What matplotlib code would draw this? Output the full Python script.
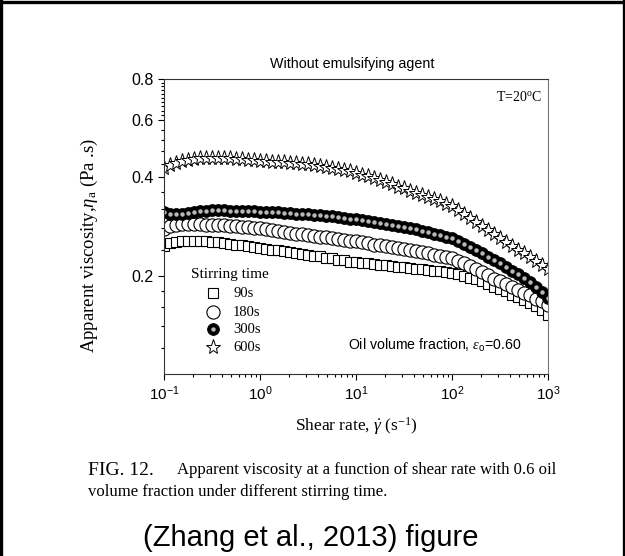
import numpy as np
import matplotlib
matplotlib.use("Agg")
import matplotlib.pyplot as plt
from matplotlib.lines import Line2D
from matplotlib.ticker import FixedLocator, NullFormatter, LogLocator, FuncFormatter

# shear rate grid of the rheometer (16 points per decade, 0.1 .. 1000 1/s)
shear_rate = np.logspace(-1, 3, 65)

# apparent viscosity (Pa.s)
eta_90s = [0.247, 0.252, 0.254, 0.255, 0.256, 0.256, 0.255, 0.255, 0.254, 0.253,
           0.252, 0.250, 0.249, 0.248, 0.246, 0.245, 0.243, 0.242, 0.240, 0.239,
           0.238, 0.236, 0.235, 0.233, 0.232, 0.230, 0.229, 0.227, 0.226, 0.224,
           0.223, 0.221, 0.220, 0.219, 0.218, 0.217, 0.216, 0.215, 0.214, 0.213,
           0.212, 0.211, 0.210, 0.209, 0.208, 0.207, 0.206, 0.205, 0.204, 0.202,
           0.200, 0.197, 0.195, 0.192, 0.189, 0.185, 0.182, 0.179, 0.175, 0.172,
           0.168, 0.165, 0.161, 0.157, 0.152]
eta_180s = [0.278, 0.283, 0.286, 0.287, 0.287, 0.287, 0.287, 0.286, 0.286, 0.285,
            0.285, 0.284, 0.283, 0.282, 0.281, 0.280, 0.279, 0.277, 0.276, 0.274,
            0.273, 0.271, 0.269, 0.268, 0.266, 0.265, 0.263, 0.262, 0.261, 0.259,
            0.258, 0.256, 0.255, 0.253, 0.251, 0.249, 0.248, 0.246, 0.245, 0.243,
            0.242, 0.240, 0.238, 0.236, 0.234, 0.232, 0.230, 0.228, 0.226, 0.222,
            0.218, 0.214, 0.210, 0.205, 0.201, 0.196, 0.192, 0.188, 0.185, 0.181,
            0.177, 0.174, 0.170, 0.167, 0.163]
eta_300s = [0.313, 0.309, 0.308, 0.310, 0.312, 0.314, 0.315, 0.316, 0.317, 0.317,
            0.317, 0.316, 0.316, 0.316, 0.315, 0.315, 0.314, 0.314, 0.313, 0.313,
            0.312, 0.311, 0.310, 0.309, 0.308, 0.307, 0.306, 0.305, 0.304, 0.302,
            0.301, 0.299, 0.298, 0.296, 0.294, 0.292, 0.290, 0.288, 0.286, 0.284,
            0.282, 0.280, 0.277, 0.275, 0.272, 0.269, 0.266, 0.263, 0.260, 0.255,
            0.250, 0.245, 0.239, 0.234, 0.228, 0.223, 0.218, 0.213, 0.207, 0.202,
            0.197, 0.191, 0.185, 0.178, 0.171]
eta_600s = [0.428, 0.436, 0.443, 0.448, 0.452, 0.455, 0.457, 0.458, 0.459, 0.459,
            0.458, 0.457, 0.456, 0.454, 0.453, 0.451, 0.449, 0.448, 0.447, 0.446,
            0.445, 0.444, 0.443, 0.441, 0.440, 0.437, 0.434, 0.431, 0.427, 0.424,
            0.420, 0.417, 0.413, 0.408, 0.403, 0.397, 0.392, 0.386, 0.381, 0.375,
            0.370, 0.364, 0.359, 0.354, 0.348, 0.343, 0.338, 0.332, 0.327, 0.318,
            0.309, 0.300, 0.292, 0.284, 0.276, 0.268, 0.260, 0.254, 0.247, 0.240,
            0.234, 0.228, 0.222, 0.216, 0.210]

labels = ["90s", "180s", "300s", "600s"]
y_major = [0.2, 0.4, 0.6, 0.8]
y_minor = [0.12, 0.14, 0.16, 0.18, 0.24, 0.28, 0.32, 0.36, 0.44, 0.48, 0.52, 0.56,
           0.62, 0.64, 0.66, 0.68, 0.70, 0.72, 0.74, 0.76, 0.78]

serif = ["Liberation Serif", "DejaVu Serif"]
sans = ["Liberation Sans", "DejaVu Sans"]
plt.rcParams["mathtext.fontset"] = "custom"
plt.rcParams["mathtext.rm"] = "Liberation Serif"
plt.rcParams["mathtext.it"] = "Liberation Serif:italic"
plt.rcParams["mathtext.sf"] = "Liberation Sans"

# marker styles of the four series
sq = dict(marker="s", ms=7.5, mfc="white", mec="black", mew=0.8)
ci = dict(marker="o", ms=9.5, mfc="white", mec="black", mew=0.8)
ba = dict(marker="o", ms=8.5, mfc="black", mec="black", mew=0.6)
hl = dict(marker="o", ms=3.2, mfc="#b8b8b8", mec="none")
st = dict(marker="*", ms=11, mfc="white", mec="black", mew=0.7)

fig = plt.figure(figsize=(6.25, 5.56), dpi=100)
ax = fig.add_axes([0.2624, 0.3273, 0.6144, 0.5306])

ax.plot(shear_rate, eta_90s, ls="none", **sq)
ax.plot(shear_rate, eta_180s, ls="none", **ci)
ax.plot(shear_rate, eta_300s, ls="none", **ba)
ax.plot(shear_rate, eta_300s, ls="none", **hl)
ax.plot(shear_rate, eta_600s, ls="none", **st)

ax.set_xscale("log")
ax.set_yscale("log")
ax.set_xlim(0.1, 1000)
ax.set_ylim(0.1, 0.8)

ax.yaxis.set_major_locator(FixedLocator(y_major))
ax.yaxis.set_minor_locator(FixedLocator(y_minor))
ax.yaxis.set_minor_formatter(NullFormatter())
ax.yaxis.set_major_formatter(FuncFormatter(lambda v, p: f"{v:.1f}"))
ax.xaxis.set_major_locator(LogLocator(base=10, numticks=10))
ax.xaxis.set_minor_locator(LogLocator(base=10, subs=np.arange(2, 10), numticks=20))
ax.xaxis.set_minor_formatter(NullFormatter())
ax.xaxis.set_major_formatter(FuncFormatter(
    lambda v, p: r"$\mathsf{10^{%d}}$" % int(round(np.log10(v)))))

ax.tick_params(which="both", direction="out", top=False, right=False, width=0.8)
ax.tick_params(which="major", length=4, labelsize=11.5)
ax.tick_params(which="minor", length=2.2)
ax.tick_params(axis="x", which="major", labelsize=11)
for lab in ax.get_yticklabels():
    lab.set_fontfamily(sans)
for sp in ax.spines.values():
    sp.set_linewidth(0.8)
    sp.set_color("#333333")
ax.spines["right"].set_color("#777777")

ax.set_title("Without emulsifying agent", fontsize=10.3, family=sans, pad=8, x=0.49)
ax.set_xlabel(r"Shear rate, $\dot{\gamma}$ (s$^{\mathregular{-1}}$)", fontsize=12.5,
              family=serif, labelpad=9)
ax.set_ylabel(r"Apparent viscosity,$\eta_{\mathregular{a}}$ (Pa .s)", fontsize=13.5,
              family=serif)
ax.yaxis.set_label_coords(-0.167, 0.437)

ax.text(0.984, 0.94, r"T=20$^{\mathregular{o}}$C", transform=ax.transAxes, ha="right",
        va="center", fontsize=10, family=serif)
ax.text(0.48, 0.098, r"Oil volume fraction, $\varepsilon_{\mathregular{o}}$=0.60",
        transform=ax.transAxes, ha="left", va="center", fontsize=10.2, family=sans)

# legend drawn by hand, like the original layout
ax.text(0.07, 0.339, "Stirring time", transform=ax.transAxes, ha="left", va="center",
        fontsize=11, family=serif)
leg_y = [0.2746, 0.21, 0.1525, 0.0915]
leg_styles = [[sq], [ci], [ba, hl], [st]]
for yy, styles, lab in zip(leg_y, leg_styles, labels):
    for s in styles:
        ax.plot([0.1276], [yy], transform=ax.transAxes, ls="none", clip_on=False, **s)
    ax.text(0.18, yy, lab, transform=ax.transAxes, ha="left", va="center",
            fontsize=10.5, family=serif)

fig.text(0.141, 0.154, "FIG. 12.", fontsize=14, family=serif, va="center")
fig.text(0.284, 0.154, "Apparent viscosity at a function of shear rate with 0.6 oil",
         fontsize=12, family=serif, va="center")
fig.text(0.141, 0.115, "volume fraction under different stirring time.",
         fontsize=12, family=serif, va="center")
fig.text(0.497, 0.032, "(Zhang et al., 2013) figure", fontsize=21, family=sans,
         ha="center", va="center")

# outer frame (left, top, right)
frame = dict(color="black", lw=2.4, transform=fig.transFigure, clip_on=False)
fig.add_artist(Line2D([0.002, 0.002], [0, 0.998], **frame))
fig.add_artist(Line2D([0, 1], [0.996, 0.996], **frame))
fig.add_artist(Line2D([0.998, 0.998], [0, 0.998], **frame))

fig.savefig("out.png", dpi=100)
